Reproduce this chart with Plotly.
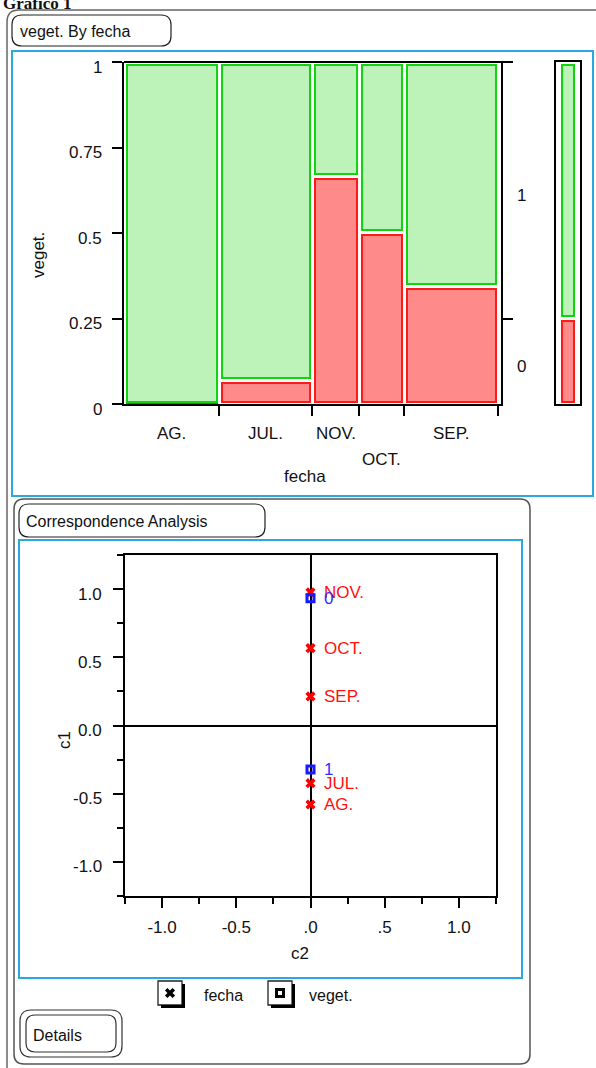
import plotly.graph_objects as go

W, H = 596, 1068

# ---------------- data ----------------
fecha = ["AG.", "JUL.", "NOV.", "OCT.", "SEP."]
fecha_share = [0.254, 0.249, 0.126, 0.120, 0.251]      # column widths of mosaic
prop_veget0 = [0.0, 0.068, 0.665, 0.501, 0.344]         # share of veget.=0 (red) per fecha
overall_veget0 = 0.249                                  # marginal share of veget.=0
veget_levels = ["0", "1"]
mosaic_yticks = [0, 0.25, 0.5, 0.75, 1]
mosaic_yticklabels = ["0", "0.25", "0.5", "0.75", "1"]

fecha_c1 = [-0.579, -0.423, 0.977, 0.567, 0.213]
fecha_c2 = [0.0, 0.0, 0.0, 0.0, 0.0]
veget_c1 = [0.933, -0.323]
veget_c2 = [0.0, 0.0]
ca_ticks = [-1.0, -0.5, 0.0, 0.5, 1.0]
ca_yticklabels = ["-1.0", "-0.5", "0.0", "0.5", "1.0"]
ca_xticklabels = ["-1.0", "-0.5", ".0", ".5", "1.0"]
legend_items = ["fecha", "veget."]

# ---------------- helpers ----------------
def X(p):
    return p / W

def Y(p):
    return 1 - p / H

def rrect(x0, y0, x1, y1, r):
    return (f"M {X(x0+r)},{Y(y0)} L {X(x1-r)},{Y(y0)} Q {X(x1)},{Y(y0)} {X(x1)},{Y(y0+r)} "
            f"L {X(x1)},{Y(y1-r)} Q {X(x1)},{Y(y1)} {X(x1-r)},{Y(y1)} "
            f"L {X(x0+r)},{Y(y1)} Q {X(x0)},{Y(y1)} {X(x0)},{Y(y1-r)} "
            f"L {X(x0)},{Y(y0+r)} Q {X(x0)},{Y(y0)} {X(x0+r)},{Y(y0)} Z")

FONT = "Liberation Sans, Arial, Helvetica, sans-serif"
RED_FILL = "#ff8a8a"
RED_LINE = "#ff1a1a"
GREEN_FILL = "#bdf3b8"
GREEN_LINE = "#11d411"
BLUE_FRAME = "#2aa8e0"

fig = go.Figure()

# ---------------- mosaic ----------------
xr_max = 1.008
ix = 2.5 * xr_max / 377.0
iy = 2.5 / 342.0
starts = []
acc = 0.0
for s in fecha_share:
    starts.append(acc)
    acc += s
bounds = [st + s for st, s in zip(starts, fecha_share)]
centers = [st + s / 2 for st, s in zip(starts, fecha_share)]
widths = [s - 2 * ix for s in fecha_share]

red_base, red_h, green_base, green_h = [], [], [], []
for p in prop_veget0:
    if p - 2 * iy > 0:
        red_base.append(iy)
        red_h.append(p - 2 * iy)
    else:
        red_base.append(0.001)
        red_h.append(0.0015)
    green_base.append(p + iy)
    green_h.append(1 - p - 2 * iy)

fig.add_trace(go.Bar(x=centers, y=red_h, base=red_base, width=widths,
                     marker=dict(color=RED_FILL, line=dict(color=RED_LINE, width=2)),
                     xaxis="x", yaxis="y", showlegend=False, hoverinfo="skip"))
fig.add_trace(go.Bar(x=centers, y=green_h, base=green_base, width=widths,
                     marker=dict(color=GREEN_FILL, line=dict(color=GREEN_LINE, width=2)),
                     xaxis="x", yaxis="y2", showlegend=False, hoverinfo="skip"))

# marginal bar
fig.add_trace(go.Bar(x=[0.5], y=[overall_veget0 - 2 * iy], base=[iy], width=[0.54],
                     marker=dict(color=RED_FILL, line=dict(color=RED_LINE, width=2)),
                     xaxis="x3", yaxis="y3", showlegend=False, hoverinfo="skip"))
fig.add_trace(go.Bar(x=[0.5], y=[1 - overall_veget0 - 2 * iy], base=[overall_veget0 + iy], width=[0.54],
                     marker=dict(color=GREEN_FILL, line=dict(color=GREEN_LINE, width=2)),
                     xaxis="x3", yaxis="y3", showlegend=False, hoverinfo="skip"))

# ---------------- correspondence analysis ----------------
fig.add_trace(go.Scatter(x=fecha_c2, y=fecha_c1, mode="markers",
                         marker=dict(symbol="x", size=9, color="#ff0000", line=dict(width=0)),
                         xaxis="x4", yaxis="y4", showlegend=False, hoverinfo="skip"))
fig.add_trace(go.Scatter(x=veget_c2, y=veget_c1, mode="markers",
                         marker=dict(symbol="square-open", size=7, color="#1a1aff",
                                     line=dict(width=3, color="#1a1aff")),
                         xaxis="x4", yaxis="y4", showlegend=False, hoverinfo="skip"))

# legend markers (pixel-space hidden axes)
fig.add_trace(go.Scatter(x=[170], y=[993], mode="markers",
                         marker=dict(symbol="x", size=9, color="black", line=dict(width=0)),
                         xaxis="x5", yaxis="y5", showlegend=False, hoverinfo="skip"))
fig.add_trace(go.Scatter(x=[280], y=[993], mode="markers",
                         marker=dict(symbol="square-open", size=7, color="black",
                                     line=dict(width=3, color="black")),
                         xaxis="x5", yaxis="y5", showlegend=False, hoverinfo="skip"))

axis_common = dict(showgrid=False, zeroline=False, linecolor="black", linewidth=2,
                   tickcolor="black", tickwidth=2, fixedrange=True)

fig.update_layout(
    width=W, height=H, margin=dict(l=0, r=0, t=0, b=0),
    paper_bgcolor="white", plot_bgcolor="rgba(0,0,0,0)",
    barmode="overlay", bargap=0,
    font=dict(family=FONT, size=17, color="#111111"),
    xaxis=dict(axis_common, domain=[X(124), X(501)], range=[0, xr_max], anchor="y",
               tickvals=bounds, ticks="outside", ticklen=10, showticklabels=False,
               showline=True),
    yaxis=dict(axis_common, domain=[Y(404), Y(62)], range=[0, 1], anchor="x",
               tickvals=mosaic_yticks, ticks="outside", ticklen=10, showticklabels=False,
               showline=True, mirror=True),
    yaxis2=dict(axis_common, overlaying="y", side="right", anchor="x", range=[0, 1],
                tickvals=[overall_veget0, 1], ticks="outside", ticklen=11,
                showticklabels=False, showline=False),
    xaxis3=dict(axis_common, domain=[X(556), X(580)], range=[0, 1], anchor="y3",
                showline=True, mirror=True, ticks="", showticklabels=False),
    yaxis3=dict(axis_common, domain=[Y(404), Y(62)], range=[0, 1], anchor="x3",
                showline=True, mirror=True, ticks="", showticklabels=False),
    xaxis4=dict(axis_common, domain=[X(125), X(496)], range=[-1.25, 1.25], anchor="y4",
                tickvals=ca_ticks, ticktext=ca_xticklabels, ticks="outside", ticklen=10,
                ticklabelstandoff=5,
                showline=True, mirror=True, zeroline=True, zerolinecolor="black", zerolinewidth=2,
                minor=dict(tick0=0, dtick=0.25, ticks="outside", ticklen=6, tickwidth=2,
                           tickcolor="black", showgrid=False),
                tickfont=dict(size=17, color="#111111")),
    yaxis4=dict(axis_common, domain=[Y(896), Y(555)], range=[-1.25, 1.25], anchor="x4",
                tickvals=ca_ticks, ticks="outside", ticklen=10, showticklabels=False,
                showline=True, mirror=True, zeroline=True, zerolinecolor="black", zerolinewidth=2,
                minor=dict(tick0=0, dtick=0.25, ticks="outside", ticklen=6, tickwidth=2,
                           tickcolor="black", showgrid=False)),
    xaxis5=dict(domain=[0, 1], range=[0, W], visible=False, anchor="y5", fixedrange=True),
    yaxis5=dict(domain=[0, 1], range=[H, 0], visible=False, anchor="x5", fixedrange=True),
)

shapes = []
def add_path(path, color, width, fill=None):
    shapes.append(dict(type="path", path=path, xref="paper", yref="paper",
                       line=dict(color=color, width=width),
                       fillcolor=fill if fill else "rgba(0,0,0,0)", layer="below"))

def add_rect(x0, y0, x1, y1, color, width, fill=None, layer="below"):
    shapes.append(dict(type="rect", xref="paper", yref="paper", x0=X(x0), x1=X(x1),
                       y0=Y(y1), y1=Y(y0), line=dict(color=color, width=width),
                       fillcolor=fill if fill else "rgba(0,0,0,0)", layer=layer))

def add_line(x0, y0, x1, y1, color, width):
    shapes.append(dict(type="line", xref="paper", yref="paper", x0=X(x0), x1=X(x1),
                       y0=Y(y0), y1=Y(y1), line=dict(color=color, width=width), layer="above"))

# outer report boxes
add_path(rrect(7, 10, 640, 1100, 12), "#666666", 1.5)
add_path(rrect(12, 15, 171, 46, 10), "#222222", 1.2, "white")
add_rect(12, 51, 593, 496, BLUE_FRAME, 2)
add_path(rrect(14, 499, 530, 1064, 10), "#555555", 1.5)
add_path(rrect(19, 504, 265, 537, 10), "#222222", 1.2, "white")
add_rect(19, 540, 522, 978, BLUE_FRAME, 2)
# mosaic top frame line extending to right tick
add_line(124, 62, 512, 62, "black", 2)
# legend boxes with shadow
for bx in (158, 268):
    add_line(bx + 25.5, 984, bx + 25.5, 1007.5, "black", 3)
    add_line(bx + 3, 1006.5, bx + 27, 1006.5, "black", 3)
    add_rect(bx, 981, bx + 24, 1005, "#222222", 1.3, "white")
# details button
add_path(rrect(20, 1010, 122, 1057, 11), "#333333", 1.2)
add_path(rrect(26, 1015, 116, 1052, 9), "#333333", 1.2)

fig.update_layout(shapes=shapes)

ann = []
def txt(x, y, text, size=17, xanchor="center", color="#111111", angle=0, family=FONT, xref="paper", yref="paper", **kw):
    ann.append(dict(x=x, y=y, text=text, xref=xref, yref=yref, showarrow=False,
                    xanchor=xanchor, yanchor="middle", textangle=angle,
                    font=dict(family=family, size=size, color=color), **kw))

# window title (cut off at top)
ann.append(dict(x=X(1), y=Y(15), text="<b>Gráfico 1</b>", xref="paper", yref="paper",
                showarrow=False, xanchor="left", yanchor="bottom",
                font=dict(family="Liberation Serif, Times New Roman, serif", size=17, color="#111")))
txt(X(18), Y(31), "veget. By fecha", size=16, xanchor="left")
txt(X(24), Y(521), "Correspondence Analysis", size=16, xanchor="left")

# mosaic labels
for c, lab in zip(centers, fecha):
    yy = 460 if lab == "OCT." else 433
    txt(c, Y(yy), lab, xref="x")
txt(X(305), Y(477), "fecha")
txt(X(39), Y(255), "veget.", angle=-90)
for v, lab in zip(mosaic_yticks, mosaic_yticklabels):
    txt(X(104), v, lab, xanchor="right", yref="y", yshift=-5)
mids = [overall_veget0 / 2, (1 + overall_veget0) / 2]
for v, lab in zip(mids, veget_levels):
    txt(X(515), v, lab, xanchor="left", yref="y", yshift=-5)

# CA labels
for v, lab in zip(ca_ticks, ca_yticklabels):
    txt(X(104), v, lab, xanchor="right", yref="y4", yshift=-5)
txt(X(64), Y(740), "c1", angle=-90)
txt(X(300), Y(953), "c2")
for cx, cy, lab in zip(fecha_c2, fecha_c1, fecha):
    txt(cx, cy, lab, xanchor="left", xref="x4", yref="y4", color="#ff1010", xshift=11)
for cx, cy, lab in zip(veget_c2, veget_c1, veget_levels):
    txt(cx, cy, lab, xanchor="left", xref="x4", yref="y4", color="#3030ff", xshift=11)

# legend text & details
txt(X(202), Y(995), legend_items[0], size=16, xanchor="left")
txt(X(307), Y(995), legend_items[1], size=16, xanchor="left")
txt(X(31), Y(1035), "Details", size=16, xanchor="left")

fig.update_layout(annotations=ann)
fig.write_html("out.html", config={"displayModeBar": False},
               post_script="document.body.style.margin='0px';")
